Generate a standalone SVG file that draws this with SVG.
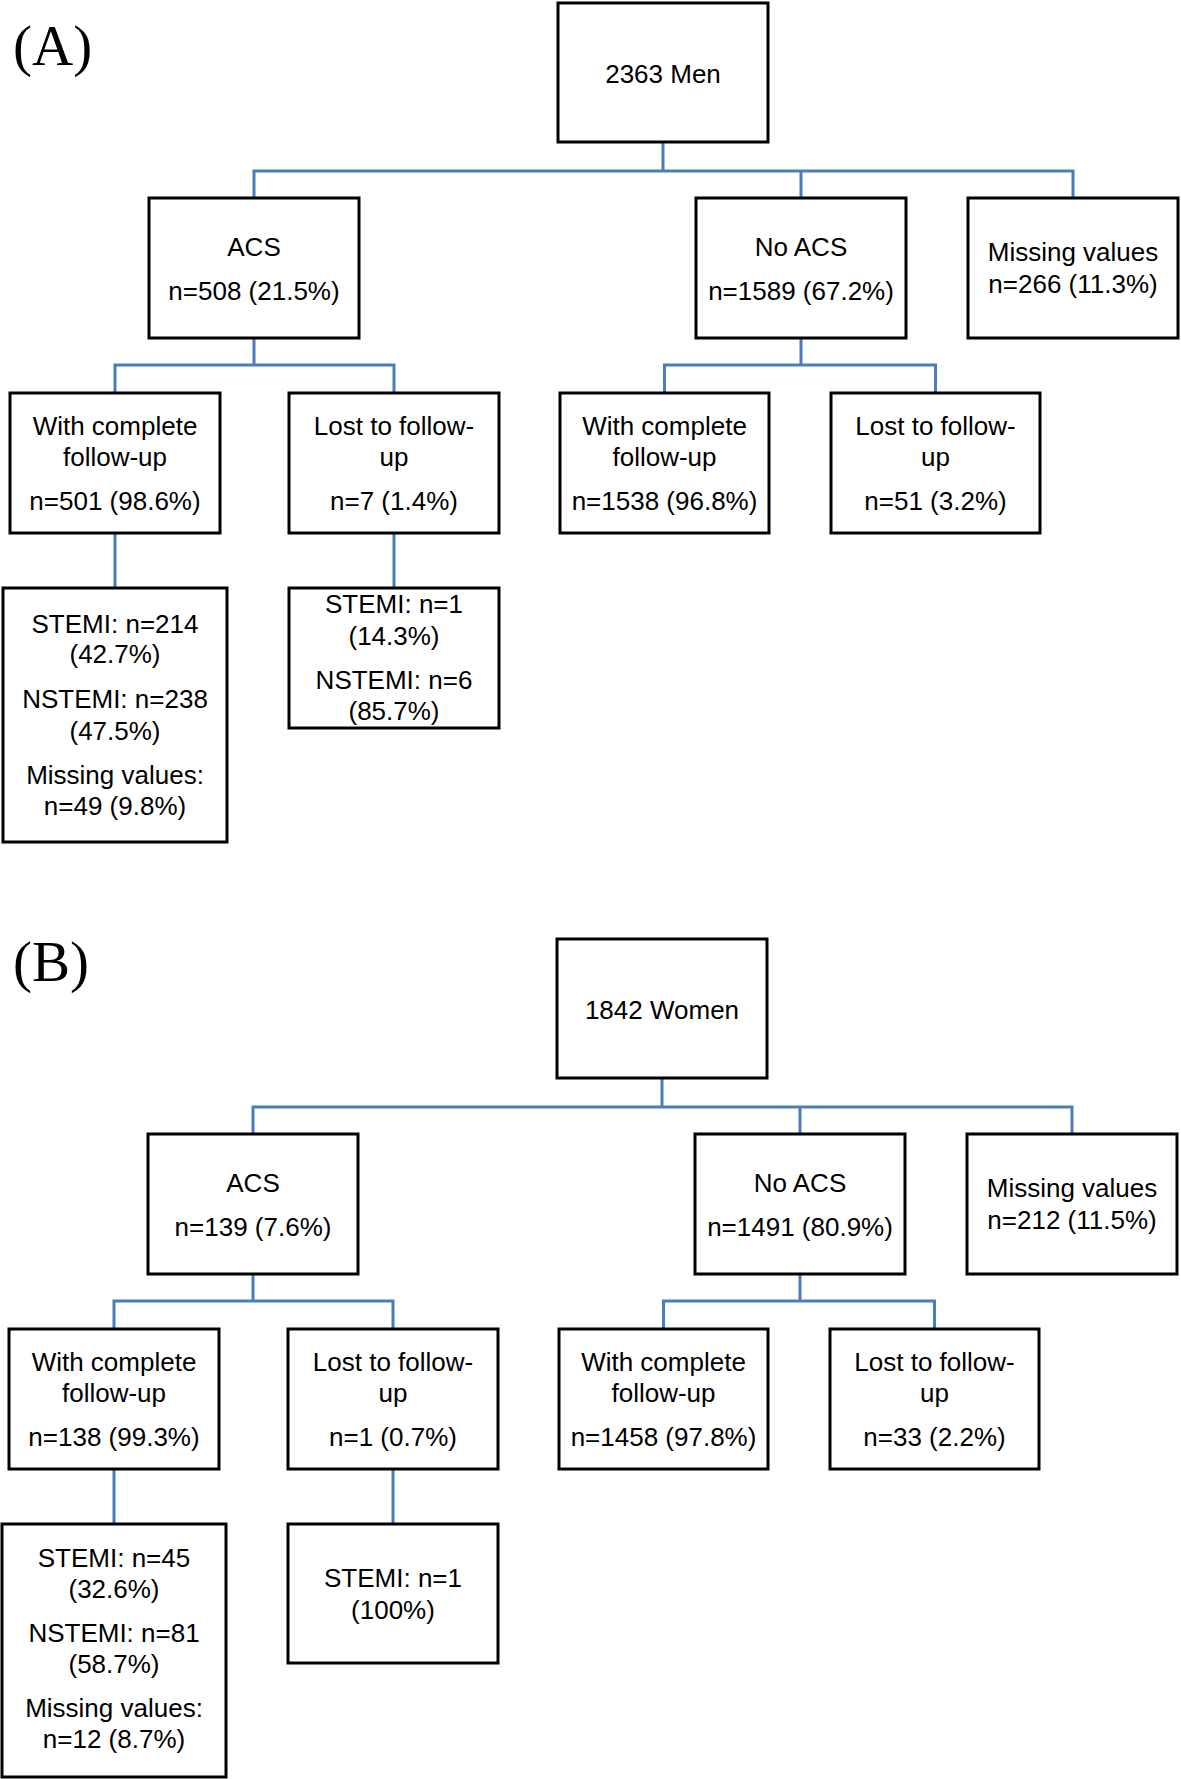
<svg xmlns="http://www.w3.org/2000/svg" width="1181" height="1779" viewBox="0 0 1181 1779">
<style>
.box{fill:#fff;stroke:#000;stroke-width:3}
.t{font-family:"Liberation Sans",Arial,sans-serif;font-size:26px;fill:#000;text-anchor:middle}
.lab{font-family:"Liberation Serif","Times New Roman",serif;font-size:57px;fill:#000}
.con{fill:none;stroke:#4A7EBB;stroke-width:3}
</style>
<rect width="1181" height="1779" fill="#fff"/>
<g id="panelA">
<text class="lab" x="13" y="65">(A)</text>
<g id="connectorsA">
<path class="con" d="M663 142V171M254 198V171H1073V198M801 171V198"/>
<path class="con" d="M254 338V365M115 393V365H394V393"/>
<path class="con" d="M801 338V365M664.5 393V365H935.5V393"/>
<path class="con" d="M115 533V588M394 533V588"/>
</g>
<g id="a_top"><rect class="box" x="558" y="3" width="210" height="139"/><text class="t" x="663" y="83">2363 Men</text></g>
<g id="a_acs"><rect class="box" x="149" y="198" width="210" height="140"/><text class="t" x="254" y="256">ACS</text><text class="t" x="254" y="300">n=508 (21.5%)</text></g>
<g id="a_noacs"><rect class="box" x="696" y="198" width="210" height="140"/><text class="t" x="801" y="256">No ACS</text><text class="t" x="801" y="300">n=1589 (67.2%)</text></g>
<g id="a_missing"><rect class="box" x="968" y="198" width="210" height="140"/><text class="t" x="1073" y="261">Missing values</text><text class="t" x="1073" y="293">n=266 (11.3%)</text></g>
<g id="a_acs_complete"><rect class="box" x="10" y="393" width="210" height="140"/><text class="t" x="115" y="435">With complete</text><text class="t" x="115" y="466">follow-up</text><text class="t" x="115" y="510">n=501 (98.6%)</text></g>
<g id="a_acs_lost"><rect class="box" x="289" y="393" width="210" height="140"/><text class="t" x="394" y="435">Lost to follow-</text><text class="t" x="394" y="466">up</text><text class="t" x="394" y="510">n=7 (1.4%)</text></g>
<g id="a_noacs_complete"><rect class="box" x="560" y="393" width="209" height="140"/><text class="t" x="664.5" y="435">With complete</text><text class="t" x="664.5" y="466">follow-up</text><text class="t" x="664.5" y="510">n=1538 (96.8%)</text></g>
<g id="a_noacs_lost"><rect class="box" x="831" y="393" width="209" height="140"/><text class="t" x="935.5" y="435">Lost to follow-</text><text class="t" x="935.5" y="466">up</text><text class="t" x="935.5" y="510">n=51 (3.2%)</text></g>
<g id="a_complete_types"><rect class="box" x="3" y="588" width="224" height="254"/><text class="t" x="115" y="633">STEMI: n=214</text><text class="t" x="115" y="663">(42.7%)</text><text class="t" x="115" y="708">NSTEMI: n=238</text><text class="t" x="115" y="740">(47.5%)</text><text class="t" x="115" y="784">Missing values:</text><text class="t" x="115" y="815">n=49 (9.8%)</text></g>
<g id="a_lost_types"><rect class="box" x="289" y="588" width="210" height="140"/><text class="t" x="394" y="613">STEMI: n=1</text><text class="t" x="394" y="645">(14.3%)</text><text class="t" x="394" y="689">NSTEMI: n=6</text><text class="t" x="394" y="720">(85.7%)</text></g>
</g>
<g id="panelB" transform="translate(-1,936)">
<text class="lab" x="14" y="45">(B)</text>
<g id="connectorsB">
<path class="con" d="M663 142V171M254 198V171H1073V198M801 171V198"/>
<path class="con" d="M254 338V365M115 393V365H394V393"/>
<path class="con" d="M801 338V365M664.5 393V365H935.5V393"/>
<path class="con" d="M115 533V588M394 533V588"/>
</g>
<g id="b_top"><rect class="box" x="558" y="3" width="210" height="139"/><text class="t" x="663" y="83">1842 Women</text></g>
<g id="b_acs"><rect class="box" x="149" y="198" width="210" height="140"/><text class="t" x="254" y="256">ACS</text><text class="t" x="254" y="300">n=139 (7.6%)</text></g>
<g id="b_noacs"><rect class="box" x="696" y="198" width="210" height="140"/><text class="t" x="801" y="256">No ACS</text><text class="t" x="801" y="300">n=1491 (80.9%)</text></g>
<g id="b_missing"><rect class="box" x="968" y="198" width="210" height="140"/><text class="t" x="1073" y="261">Missing values</text><text class="t" x="1073" y="293">n=212 (11.5%)</text></g>
<g id="b_acs_complete"><rect class="box" x="10" y="393" width="210" height="140"/><text class="t" x="115" y="435">With complete</text><text class="t" x="115" y="466">follow-up</text><text class="t" x="115" y="510">n=138 (99.3%)</text></g>
<g id="b_acs_lost"><rect class="box" x="289" y="393" width="210" height="140"/><text class="t" x="394" y="435">Lost to follow-</text><text class="t" x="394" y="466">up</text><text class="t" x="394" y="510">n=1 (0.7%)</text></g>
<g id="b_noacs_complete"><rect class="box" x="560" y="393" width="209" height="140"/><text class="t" x="664.5" y="435">With complete</text><text class="t" x="664.5" y="466">follow-up</text><text class="t" x="664.5" y="510">n=1458 (97.8%)</text></g>
<g id="b_noacs_lost"><rect class="box" x="831" y="393" width="209" height="140"/><text class="t" x="935.5" y="435">Lost to follow-</text><text class="t" x="935.5" y="466">up</text><text class="t" x="935.5" y="510">n=33 (2.2%)</text></g>
<g id="b_complete_types"><rect class="box" x="3" y="588" width="224" height="253"/><text class="t" x="115" y="631">STEMI: n=45</text><text class="t" x="115" y="662">(32.6%)</text><text class="t" x="115" y="706">NSTEMI: n=81</text><text class="t" x="115" y="737">(58.7%)</text><text class="t" x="115" y="781">Missing values:</text><text class="t" x="115" y="812">n=12 (8.7%)</text></g>
<g id="b_lost_types"><rect class="box" x="289" y="588" width="210" height="139"/><text class="t" x="394" y="651">STEMI: n=1</text><text class="t" x="394" y="683">(100%)</text></g>
</g>
</svg>
